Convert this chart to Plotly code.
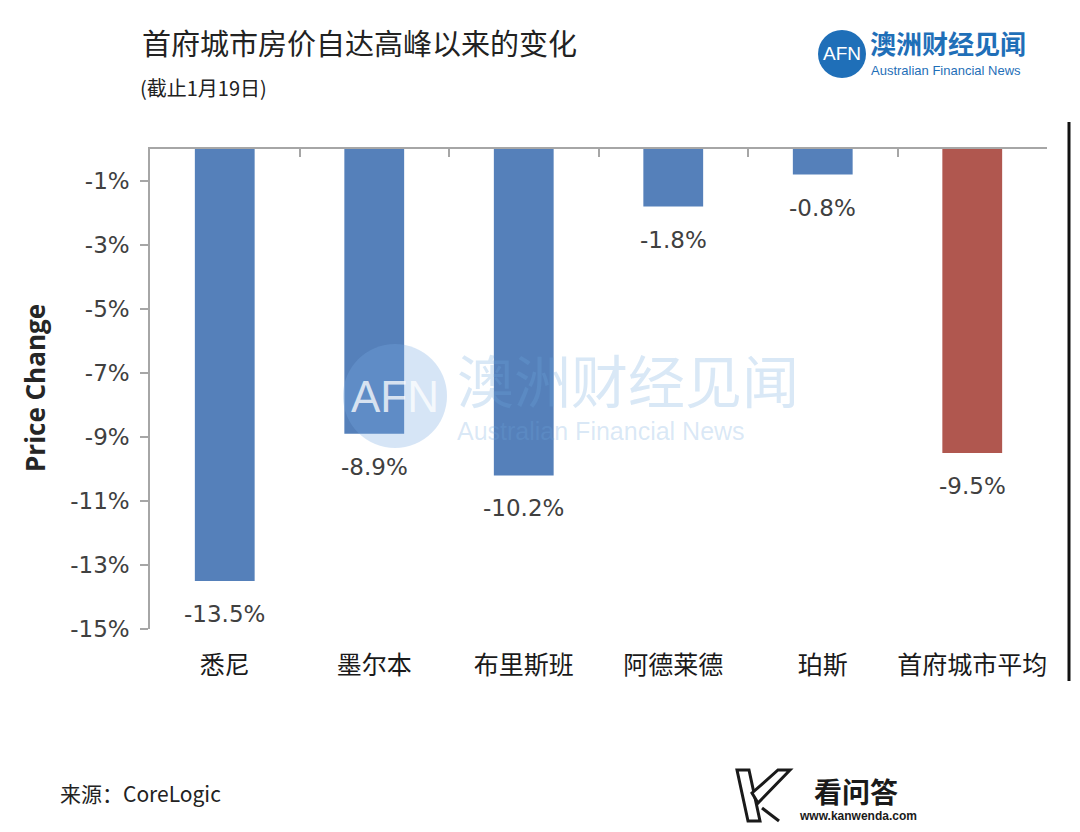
import plotly.graph_objects as go

# data
cities = ['悉尼', '墨尔本', '布里斯班', '阿德莱德', '珀斯', '首府城市平均']
price_change = [-13.5, -8.9, -10.2, -1.8, -0.8, -9.5]
bar_colors = ['#5580ba', '#5580ba', '#5580ba', '#5580ba', '#5580ba', '#b0574f']
y_ticks = [-1, -3, -5, -7, -9, -11, -13, -15]
y_tick_labels = ['-1%', '-3%', '-5%', '-7%', '-9%', '-11%', '-13%', '-15%']

# the page body has an 8px margin on every side, so keep the figure
# small enough that no scrollbar shows up
OFF = 8
W, H = 1080 - 2 * OFF, 832 - 2 * OFF
# plot area edges, in page pixels
L, R, T, B = 150, 1047, 149, 629


def px(x):
    # page pixel -> paper x
    return (x - L) / (R - L)


def py(y):
    # page pixel -> paper y
    return (B - y) / (B - T)


num_font = 'DejaVu Sans'
cjk_font = 'Noto Sans CJK SC'

fig = go.Figure()
fig.add_trace(go.Bar(
    x=cities, y=price_change,
    marker=dict(color=bar_colors, line=dict(width=0)),
    width=0.4, hoverinfo='x+y', showlegend=False))

# dummy trace so the top axis (category separators) gets drawn
fig.add_trace(go.Scatter(
    x=[-0.5, 5.5], y=[0, 0], xaxis='x2', mode='markers',
    marker=dict(opacity=0), hoverinfo='skip', showlegend=False))

annotations = []
# value labels under each bar
for c, v in zip(cities, price_change):
    annotations.append(dict(
        x=c, y=v, xref='x', yref='y', text='%.1f%%' % v, showarrow=False,
        yshift=-33, font=dict(family=num_font, size=23, color='#404040')))

# titles and footer
annotations += [
    dict(x=px(140), y=py(42), xref='paper', yref='paper', xanchor='left', yanchor='middle',
         text='首府城市房价自达高峰以来的变化', showarrow=False,
         font=dict(family=cjk_font, size=29, color='#222222')),
    dict(x=px(138), y=py(87), xref='paper', yref='paper', xanchor='left', yanchor='middle',
         text='(截止1月19日)', showarrow=False,
         font=dict(family=cjk_font, size=20, color='#222222')),
    dict(x=px(58), y=py(793), xref='paper', yref='paper', xanchor='left', yanchor='middle',
         text='来源：CoreLogic', showarrow=False,
         font=dict(family=cjk_font, size=21, color='#222222')),
    dict(x=px(35), y=py(388), xref='paper', yref='paper', xanchor='center', yanchor='middle',
         text='<b>Price Change</b>', textangle=-90, showarrow=False,
         font=dict(family='Open Sans', size=26, color='#262626')),
    # top-right logo
    dict(x=px(842), y=py(54), xref='paper', yref='paper', xanchor='center', yanchor='middle',
         text='AFN', showarrow=False, font=dict(family='Liberation Sans', size=19, color='white')),
    dict(x=px(868), y=py(43), xref='paper', yref='paper', xanchor='left', yanchor='middle',
         text='<b>澳洲财经见闻</b>', showarrow=False,
         font=dict(family=cjk_font, size=26, color='#1f6fb8')),
    dict(x=px(869), y=py(71), xref='paper', yref='paper', xanchor='left', yanchor='middle',
         text='Australian Financial News', showarrow=False,
         font=dict(family='Liberation Sans', size=13, color='#1f6fb8')),
    # watermark
    dict(x=px(395), y=py(396), xref='paper', yref='paper', xanchor='center', yanchor='middle',
         text='AFN', showarrow=False,
         font=dict(family='Liberation Sans', size=44, color='rgba(255,255,255,0.75)')),
    dict(x=px(455), y=py(378), xref='paper', yref='paper', xanchor='left', yanchor='middle',
         text='澳洲财经见闻', showarrow=False,
         font=dict(family=cjk_font, size=57, color='rgba(110,165,220,0.26)')),
    dict(x=px(455), y=py(431), xref='paper', yref='paper', xanchor='left', yanchor='middle',
         text='Australian Financial News', showarrow=False,
         font=dict(family='Liberation Sans', size=25, color='rgba(110,165,220,0.26)')),
    # bottom-right logo
    dict(x=px(856), y=py(791), xref='paper', yref='paper', xanchor='center', yanchor='middle',
         text='<b>看问答</b>', showarrow=False,
         font=dict(family=cjk_font, size=28, color='#1a1a1a')),
    dict(x=px(858), y=py(816), xref='paper', yref='paper', xanchor='center', yanchor='middle',
         text='<b>www.kanwenda.com</b>', showarrow=False,
         font=dict(family='Liberation Sans Narrow, Liberation Sans', size=12, color='#1a1a1a')),
]

shapes = [
    # right-hand border line
    dict(type='line', xref='paper', yref='paper', x0=px(1069), x1=px(1069), y0=py(122), y1=py(681),
         line=dict(color='#111111', width=3)),
    # logo circle
    dict(type='circle', xref='paper', yref='paper', x0=px(818), x1=px(866), y0=py(30), y1=py(78),
         fillcolor='#1f6fb8', line=dict(width=0), layer='below'),
    # watermark circle
    dict(type='circle', xref='paper', yref='paper', x0=px(343), x1=px(447), y0=py(344), y1=py(448),
         fillcolor='rgba(120,170,225,0.3)', line=dict(width=0), layer='above'),
    # kanwenda K mark
    dict(type='path', xref='paper', yref='paper', layer='above',
         path='M %f,%f L %f,%f L %f,%f L %f,%f Z' % (px(737), py(770), px(749), py(770), px(760), py(821), px(748), py(821)),
         fillcolor='white', line=dict(color='#1a1a1a', width=3)),
    dict(type='path', xref='paper', yref='paper', layer='above',
         path='M %f,%f L %f,%f L %f,%f L %f,%f Z' % (px(778), py(770), px(790), py(770), px(758), py(803), px(752), py(793)),
         fillcolor='white', line=dict(color='#1a1a1a', width=3)),
    dict(type='line', xref='paper', yref='paper', x0=px(762), x1=px(779), y0=py(808), y1=py(821),
         line=dict(color='#1a1a1a', width=3)),
]

fig.update_layout(
    width=W, height=H,
    margin=dict(l=L - OFF, r=W + OFF - R, t=T - OFF, b=H + OFF - B),
    paper_bgcolor='white', plot_bgcolor='white',
    bargap=0.6,
    xaxis=dict(
        type='category', range=[-0.5, 5.5], showline=False, showgrid=False, zeroline=False,
        ticks='', ticklabelstandoff=19,
        tickfont=dict(family=cjk_font, size=25, color='#1a1a1a')),
    xaxis2=dict(
        overlaying='x', side='top', anchor='y', range=[-0.5, 5.5],
        tickvals=[-0.5, 0.5, 1.5, 2.5, 3.5, 4.5, 5.5], ticks='inside', ticklen=8,
        tickcolor='#a6a6a6', tickwidth=1.5, showline=True, linecolor='#a6a6a6', linewidth=1.5,
        showticklabels=False, showgrid=False, zeroline=False),
    yaxis=dict(
        range=[-15, 0], tickvals=y_ticks, ticktext=y_tick_labels,
        ticks='outside', ticklen=8, tickcolor='#a6a6a6', tickwidth=1.5,
        showline=True, linecolor='#a6a6a6', linewidth=1.5,
        showgrid=False, zeroline=False, ticklabelstandoff=6,
        tickfont=dict(family=num_font, size=23, color='#404040')),
    annotations=annotations,
    shapes=shapes,
)

fig.write_html('out.html')
